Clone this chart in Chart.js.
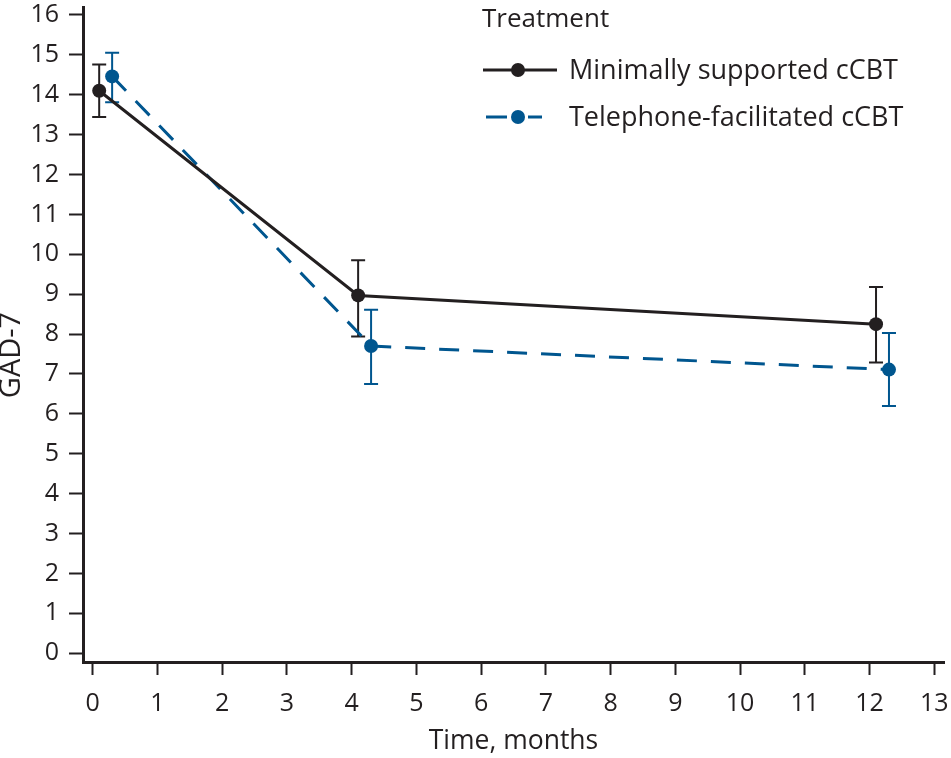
<!DOCTYPE html>
<html>
<head>
<meta charset="utf-8">
<script src="https://cdn.jsdelivr.net/npm/chart.js@4/dist/chart.umd.min.js"></script>
<style>
  html, body { margin: 0; padding: 0; background: #fff; }
  #wrap { width: 951px; height: 758px; }
</style>
</head>
<body>
<div id="wrap"><canvas id="grafico"></canvas></div>
<script>
const xTicks = [0, 1, 2, 3, 4, 5, 6, 7, 8, 9, 10, 11, 12, 13];
const yTicks = [0, 1, 2, 3, 4, 5, 6, 7, 8, 9, 10, 11, 12, 13, 14, 15, 16];
const legendTitle = "Treatment";
const seriesNames = ["Minimally supported cCBT", "Telephone-facilitated cCBT"];
const yTitle = "GAD-7";
const xTitle = "Time, months";

const minimalX = [0.1, 4.1, 12.1];
const minimalY = [14.1, 8.97, 8.25];
const minimalLow = [13.44, 7.94, 7.29];
const minimalHigh = [14.76, 9.85, 9.18];

const phoneX = [0.3, 4.3, 12.3];
const phoneY = [14.46, 7.7, 7.11];
const phoneLow = [13.81, 6.75, 6.2];
const phoneHigh = [15.05, 8.61, 8.03];

const preto = "#231f20";
const azul = "#00568f";
const fonte = "'Open Sans', sans-serif";

function pontos(xs, ys) {
    return xs.map((x, i) => ({ x: x, y: ys[i] }));
}

// barras de erro desenhadas por baixo das linhas
const barrasErro = {
    id: "barrasErro",
    beforeDatasetsDraw(chart) {
        const ctx = chart.ctx;
        const sx = chart.scales.x;
        const sy = chart.scales.y;
        chart.data.datasets.forEach(ds => {
            ctx.save();
            ctx.strokeStyle = ds.borderColor;
            ctx.lineWidth = 2;
            ds.data.forEach((p, i) => {
                const px = sx.getPixelForValue(p.x);
                const top = sy.getPixelForValue(ds.high[i]);
                const bot = sy.getPixelForValue(ds.low[i]);
                ctx.beginPath();
                ctx.moveTo(px, top);
                ctx.lineTo(px, bot);
                ctx.moveTo(px - 7, top);
                ctx.lineTo(px + 7, top);
                ctx.moveTo(px - 7, bot);
                ctx.lineTo(px + 7, bot);
                ctx.stroke();
            });
            ctx.restore();
        });
    }
};

// legenda no canto superior direito + titulo do eixo y
const legenda = {
    id: "legenda",
    afterDraw(chart) {
        const ctx = chart.ctx;
        ctx.save();
        ctx.fillStyle = preto;
        ctx.textBaseline = "alphabetic";
        ctx.font = "26px " + fonte;
        ctx.fillText(legendTitle, 482, 27);

        ctx.font = "27px " + fonte;
        const linhas = [
            { y: 70, base: 79, x0: 483, x1: 557 },
            { y: 117, base: 126, x0: 486, x1: 542 }
        ];
        chart.data.datasets.forEach((ds, i) => {
            const l = linhas[i];
            ctx.strokeStyle = ds.borderColor;
            ctx.lineWidth = 3;
            ctx.setLineDash(i === 1 ? [21, 21] : []);
            ctx.beginPath();
            ctx.moveTo(l.x0, l.y);
            ctx.lineTo(l.x1, l.y);
            ctx.stroke();
            ctx.setLineDash([]);
            ctx.fillStyle = ds.borderColor;
            ctx.beginPath();
            ctx.arc(518, l.y, 7, 0, Math.PI * 2);
            ctx.fill();
            ctx.fillStyle = preto;
            ctx.fillText(ds.label, 569, l.base);
        });

        ctx.translate(11, 355);
        ctx.rotate(-Math.PI / 2);
        ctx.textAlign = "center";
        ctx.textBaseline = "middle";
        ctx.font = "29px " + fonte;
        ctx.fillText(yTitle, 0, 1);
        ctx.restore();
    }
};

const ctx = document.getElementById("grafico").getContext("2d");

window.myChart = new Chart(ctx, {
    type: "line",
    data: {
        datasets: [{
            label: seriesNames[0],
            data: pontos(minimalX, minimalY),
            low: minimalLow,
            high: minimalHigh,
            borderColor: preto,
            backgroundColor: preto,
            borderWidth: 3,
            pointRadius: 7,
            pointHoverRadius: 7,
            pointBorderWidth: 0,
            tension: 0
        }, {
            label: seriesNames[1],
            data: pontos(phoneX, phoneY),
            low: phoneLow,
            high: phoneHigh,
            borderColor: azul,
            backgroundColor: azul,
            borderWidth: 3,
            borderDash: [20, 14],
            pointRadius: 7,
            pointHoverRadius: 7,
            pointBorderWidth: 0,
            tension: 0
        }]
    },
    options: {
        responsive: true,
        maintainAspectRatio: false,
        animation: false,
        layout: {
            padding: { top: 3, right: 6, left: 0, bottom: 0 }
        },
        plugins: {
            legend: { display: false },
            tooltip: { enabled: false }
        },
        scales: {
            x: {
                type: "linear",
                min: -0.15,
                max: 13.15,
                afterBuildTicks: s => { s.ticks = xTicks.map(v => ({ value: v })); },
                afterFit: s => { s.height = 96; s.paddingLeft = 0; s.paddingRight = 0; },
                grid: {
                    drawOnChartArea: false,
                    tickLength: 13,
                    tickWidth: 2,
                    tickColor: preto
                },
                border: { display: true, width: 3, color: preto },
                ticks: {
                    padding: 14,
                    color: preto,
                    autoSkip: false,
                    maxRotation: 0,
                    font: { family: fonte, size: 25 }
                },
                title: {
                    display: true,
                    text: xTitle,
                    color: preto,
                    padding: { top: 0, bottom: 1 },
                    font: { family: fonte, size: 26.5 }
                }
            },
            y: {
                min: -0.22,
                max: 16.2,
                afterBuildTicks: s => { s.ticks = yTicks.map(v => ({ value: v })); },
                afterFit: s => { s.width = 83; s.paddingTop = 0; s.paddingBottom = 0; },
                grid: {
                    drawOnChartArea: false,
                    tickLength: 14,
                    tickWidth: 2,
                    tickColor: preto
                },
                border: { display: true, width: 3, color: preto },
                ticks: {
                    padding: 10,
                    color: preto,
                    autoSkip: false,
                    font: { family: fonte, size: 25 }
                }
            }
        }
    },
    plugins: [barrasErro, legenda]
});
</script>
</body>
</html>
